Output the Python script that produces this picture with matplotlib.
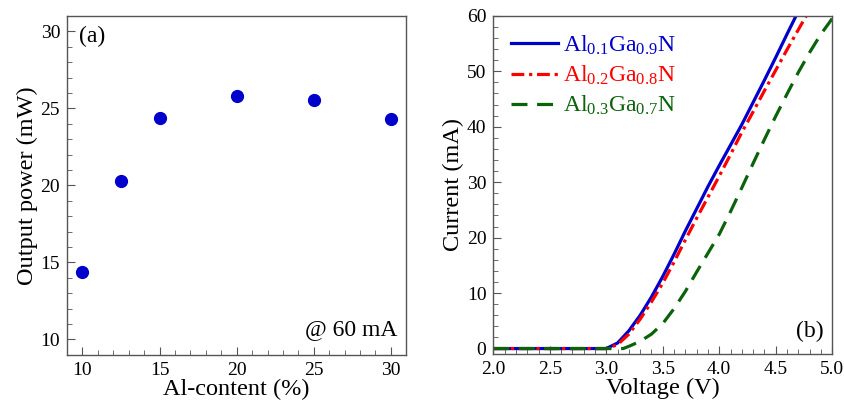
import matplotlib
matplotlib.use("Agg")
import matplotlib.pyplot as plt
from matplotlib.ticker import MultipleLocator, FormatStrFormatter

plt.rcParams['font.family'] = ['Liberation Serif', 'DejaVu Serif']
plt.rcParams['mathtext.fontset'] = 'custom'
plt.rcParams['mathtext.rm'] = 'Liberation Serif'
plt.rcParams['mathtext.it'] = 'Liberation Serif:italic'

# (a) output power vs Al content
al_content = [10, 12.5, 15, 20, 25, 30]
power = [14.35, 20.3, 24.4, 25.8, 25.55, 24.3]

# (b) I-V curves
v_01 = [2.0, 3.0, 3.1, 3.2, 3.3, 3.4, 3.5, 3.6, 3.7, 3.8, 3.9, 4.0, 4.1, 4.2, 4.3, 4.4, 4.5, 4.6, 4.68]
i_01 = [0, 0, 1.0, 3.2, 6.0, 9.3, 13.0, 17.0, 21.2, 25.2, 29.2, 33.0, 36.7, 40.4, 44.4, 48.4, 52.5, 56.7, 60]
v_02 = [2.0, 3.0, 3.1, 3.2, 3.3, 3.4, 3.5, 3.6, 3.7, 3.8, 3.9, 4.0, 4.1, 4.2, 4.3, 4.4, 4.5, 4.6, 4.7, 4.77]
i_02 = [0, 0, 0.7, 2.6, 5.3, 8.4, 11.8, 15.6, 19.6, 23.5, 27.3, 31.1, 35.0, 39.0, 42.7, 46.5, 50.2, 53.9, 57.5, 60]
v_03 = [2.0, 3.15, 3.2, 3.3, 3.4, 3.5, 3.6, 3.7, 3.8, 3.9, 4.0, 4.1, 4.2, 4.3, 4.4, 4.5, 4.6, 4.7, 4.8, 4.9, 5.0]
i_03 = [0, 0, 0.4, 1.3, 2.6, 4.5, 7.2, 10.3, 13.8, 17.2, 20.6, 24.7, 29.0, 33.4, 37.7, 41.9, 45.9, 49.8, 53.4, 56.7, 59.5]

labels = [r'Al$_{\mathrm{0.1}}$Ga$_{\mathrm{0.9}}$N',
          r'Al$_{\mathrm{0.2}}$Ga$_{\mathrm{0.8}}$N',
          r'Al$_{\mathrm{0.3}}$Ga$_{\mathrm{0.7}}$N']

blue = '#0000cc'
red = '#ff0000'
green = '#0a620a'
spine_c = '#555555'

fig = plt.figure(figsize=(8.44, 4.07), dpi=100)
ax1 = fig.add_axes([0.0794, 0.128, 0.402, 0.833])
ax2 = fig.add_axes([0.5845, 0.130, 0.4015, 0.831])

for ax in (ax1, ax2):
    for s in ax.spines.values():
        s.set_color(spine_c)
        s.set_linewidth(1.0)
    ax.tick_params(which='both', direction='in', top=False, right=False,
                   color=spine_c, labelsize=14, pad=5)
    ax.tick_params(which='major', length=6)
    ax.tick_params(which='minor', length=3.5)

ax1.plot(al_content, power, 'o', color=blue, markersize=8.5)
ax1.set_xlim(9, 31)
ax1.set_ylim(9, 31)
ax1.xaxis.set_major_locator(MultipleLocator(5))
ax1.xaxis.set_minor_locator(MultipleLocator(1))
ax1.yaxis.set_major_locator(MultipleLocator(5))
ax1.yaxis.set_minor_locator(MultipleLocator(1))
ax1.set_xlabel('Al-content (%)', fontsize=17.5, labelpad=0)
ax1.set_ylabel('Output power (mW)', fontsize=17.5, labelpad=2)
ax1.text(0.035, 0.97, '(a)', transform=ax1.transAxes, fontsize=17, va='top', ha='left')
ax1.text(0.975, 0.045, '@ 60 mA', transform=ax1.transAxes, fontsize=17, va='bottom', ha='right')

ax2.plot(v_01, i_01, '-', color=blue, lw=2.3, label=labels[0])
ax2.plot(v_02, i_02, color=red, lw=2.3, linestyle=(0, (4, 1.5, 1, 1.5)), label=labels[1])
ax2.plot(v_03, i_03, color=green, lw=2.3, linestyle=(0, (5, 3)), label=labels[2])
ax2.set_xlim(2.0, 5.0)
ax2.set_ylim(-1, 60)
ax2.xaxis.set_major_locator(MultipleLocator(0.5))
ax2.xaxis.set_minor_locator(MultipleLocator(0.1))
ax2.yaxis.set_major_locator(MultipleLocator(10))
ax2.yaxis.set_minor_locator(MultipleLocator(2))
ax2.xaxis.set_major_formatter(FormatStrFormatter('%.1f'))
ax2.set_xlabel('Voltage (V)', fontsize=17.5, labelpad=0)
ax2.set_ylabel('Current (mA)', fontsize=17.5, labelpad=2)
ax2.text(0.975, 0.035, '(b)', transform=ax2.transAxes, fontsize=17, va='bottom', ha='right')

leg = ax2.legend(loc='upper left', frameon=False, fontsize=17, handlelength=2.0,
                 handletextpad=0.2, labelspacing=0.3, borderaxespad=0.2,
                 bbox_to_anchor=(0.01, 0.99))
for txt, c in zip(leg.get_texts(), [blue, red, green]):
    txt.set_color(c)

fig.savefig('out.png', dpi=100)
